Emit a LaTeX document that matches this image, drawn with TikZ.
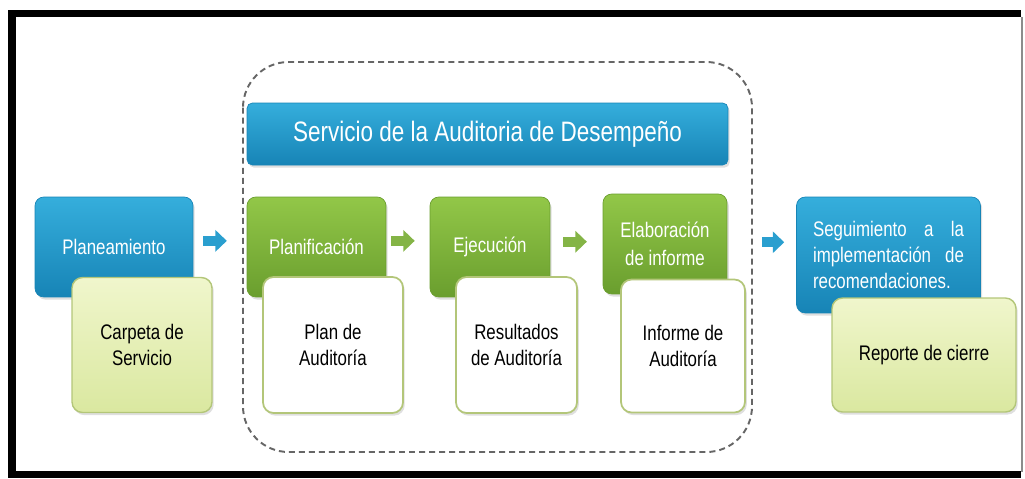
\documentclass[tikz,border=0pt]{standalone}
\usepackage{fontspec}
\setmainfont[FakeStretch=0.8]{Liberation Sans}
\usepackage{tikz}
\usetikzlibrary{positioning}
\usetikzlibrary{arrows.meta}
\usetikzlibrary{shadows}
\usepackage{xcolor}
\definecolor{azulTop}{HTML}{35AEDC}
\definecolor{azulBot}{HTML}{1784B6}
\definecolor{verdeTop}{HTML}{92C748}
\definecolor{verdeBot}{HTML}{6A9E2E}
\definecolor{cremaTop}{HTML}{F0F6CC}
\definecolor{cremaBot}{HTML}{DAE8A0}
\definecolor{bordeOliva}{HTML}{B3C679}
\definecolor{flechaAzul}{HTML}{2A9FCF}
\definecolor{flechaVerde}{HTML}{84B446}

\begin{document}
\begin{tikzpicture}[x=0.02cm, y=-0.02cm,
    sombra/.style={drop shadow={shadow xshift=1pt, shadow yshift=-1.5pt, opacity=0.25}},
    bluebox/.style={rectangle, rounded corners=5pt, top color=azulTop, bottom color=azulBot,
        draw=azulBot, text=white, align=center, sombra, font=\fontsize{12}{15}\selectfont},
    greenbox/.style={rectangle, rounded corners=5pt, top color=verdeTop, bottom color=verdeBot,
        draw=verdeBot, text=white, align=center, sombra, font=\fontsize{12}{15}\selectfont},
    docbox/.style={rectangle, rounded corners=6pt, fill=white, draw=bordeOliva, line width=1pt,
        text=black, align=center, sombra, font=\fontsize{12}{15}\selectfont},
    outbox/.style={rectangle, rounded corners=6pt, top color=cremaTop, bottom color=cremaBot,
        draw=bordeOliva, line width=0.8pt, text=black, align=center, sombra,
        font=\fontsize{12}{15}\selectfont},
    flecha/.style={line width=5.5pt, -{Triangle[length=6.5pt, width=12pt]}}]
    \useasboundingbox (0,0) rectangle (1025,478);

    % marco
    \draw[line width=4pt] (1021,13.5) -- (12,13.5) -- (12,474.5) -- (1021,474.5);
    \draw[black!45, line width=1.2pt] (1022,17) -- (1022,472);

    % zona del servicio
    \draw[black!60, line width=1.1pt, dash pattern=on 3.4pt off 2.3pt, rounded corners=26pt]
        (243,62) rectangle (752,452);
    \node[bluebox, minimum width=9.62cm, minimum height=1.24cm, rounded corners=3pt,
        font=\fontsize{16}{19}\selectfont] (servicio) at (487.5,134) {Servicio de la Auditoria de Desempeño};

    % etapas
    \node[bluebox, minimum width=3.16cm, minimum height=2cm] (planeamiento) at (114,247) {Planeamiento};
    \node[greenbox, minimum width=2.78cm, minimum height=2cm] (planificacion) at (316.5,247) {Planificación};
    \node[greenbox, minimum width=2.4cm, minimum height=2cm] (ejecucion) at (490,247) {Ejecución};
    \node[greenbox, minimum width=2.48cm, minimum height=2cm, font=\fontsize{12}{16}\selectfont]
        (elaboracion) at (665,244) {Elaboración\\de informe};
    \node[bluebox, minimum width=3.68cm, minimum height=2.32cm, text width=3.02cm, align=justify]
        (seguimiento) at (888.5,255) {Seguimiento a la\linebreak implementación de\linebreak recomendaciones.};

    % productos
    \node[outbox, minimum width=2.8cm, minimum height=2.7cm] (carpeta) at (142,345) {Carpeta de\\Servicio};
    \node[docbox, minimum width=2.8cm, minimum height=2.72cm] (planAud) at (333,345) {Plan de\\Auditoría};
    \node[docbox, minimum width=2.42cm, minimum height=2.72cm] (resultados) at (516.5,345) {Resultados\\de Auditoría};
    \node[docbox, minimum width=2.48cm, minimum height=2.66cm] (informe) at (683,346) {Informe de\\Auditoría};
    \node[outbox, minimum width=3.68cm, minimum height=2.28cm] (reporte) at (924,355) {Reporte de cierre};

    \draw[flecha, flechaAzul, shorten <=5.7pt, shorten >=11.3pt]
        ([yshift=3.5pt]planeamiento.east) -- ([yshift=3.5pt]planificacion.west);
    \draw[flecha, flechaVerde, shorten <=2.8pt, shorten >=8.5pt]
        ([yshift=3.5pt]planificacion.east) -- ([yshift=3.5pt]ejecucion.west);
    \draw[flecha, flechaVerde, shorten <=7.4pt, shorten >=9pt]
        ([yshift=3pt]ejecucion.east) -- ([yshift=3pt]ejecucion.east -| elaboracion.west);
    \draw[flecha, flechaAzul, shorten <=19.8pt, shorten >=6.8pt]
        ([yshift=1pt]elaboracion.east) -- ([yshift=1pt]elaboracion.east -| seguimiento.west);
\end{tikzpicture}
\end{document}
